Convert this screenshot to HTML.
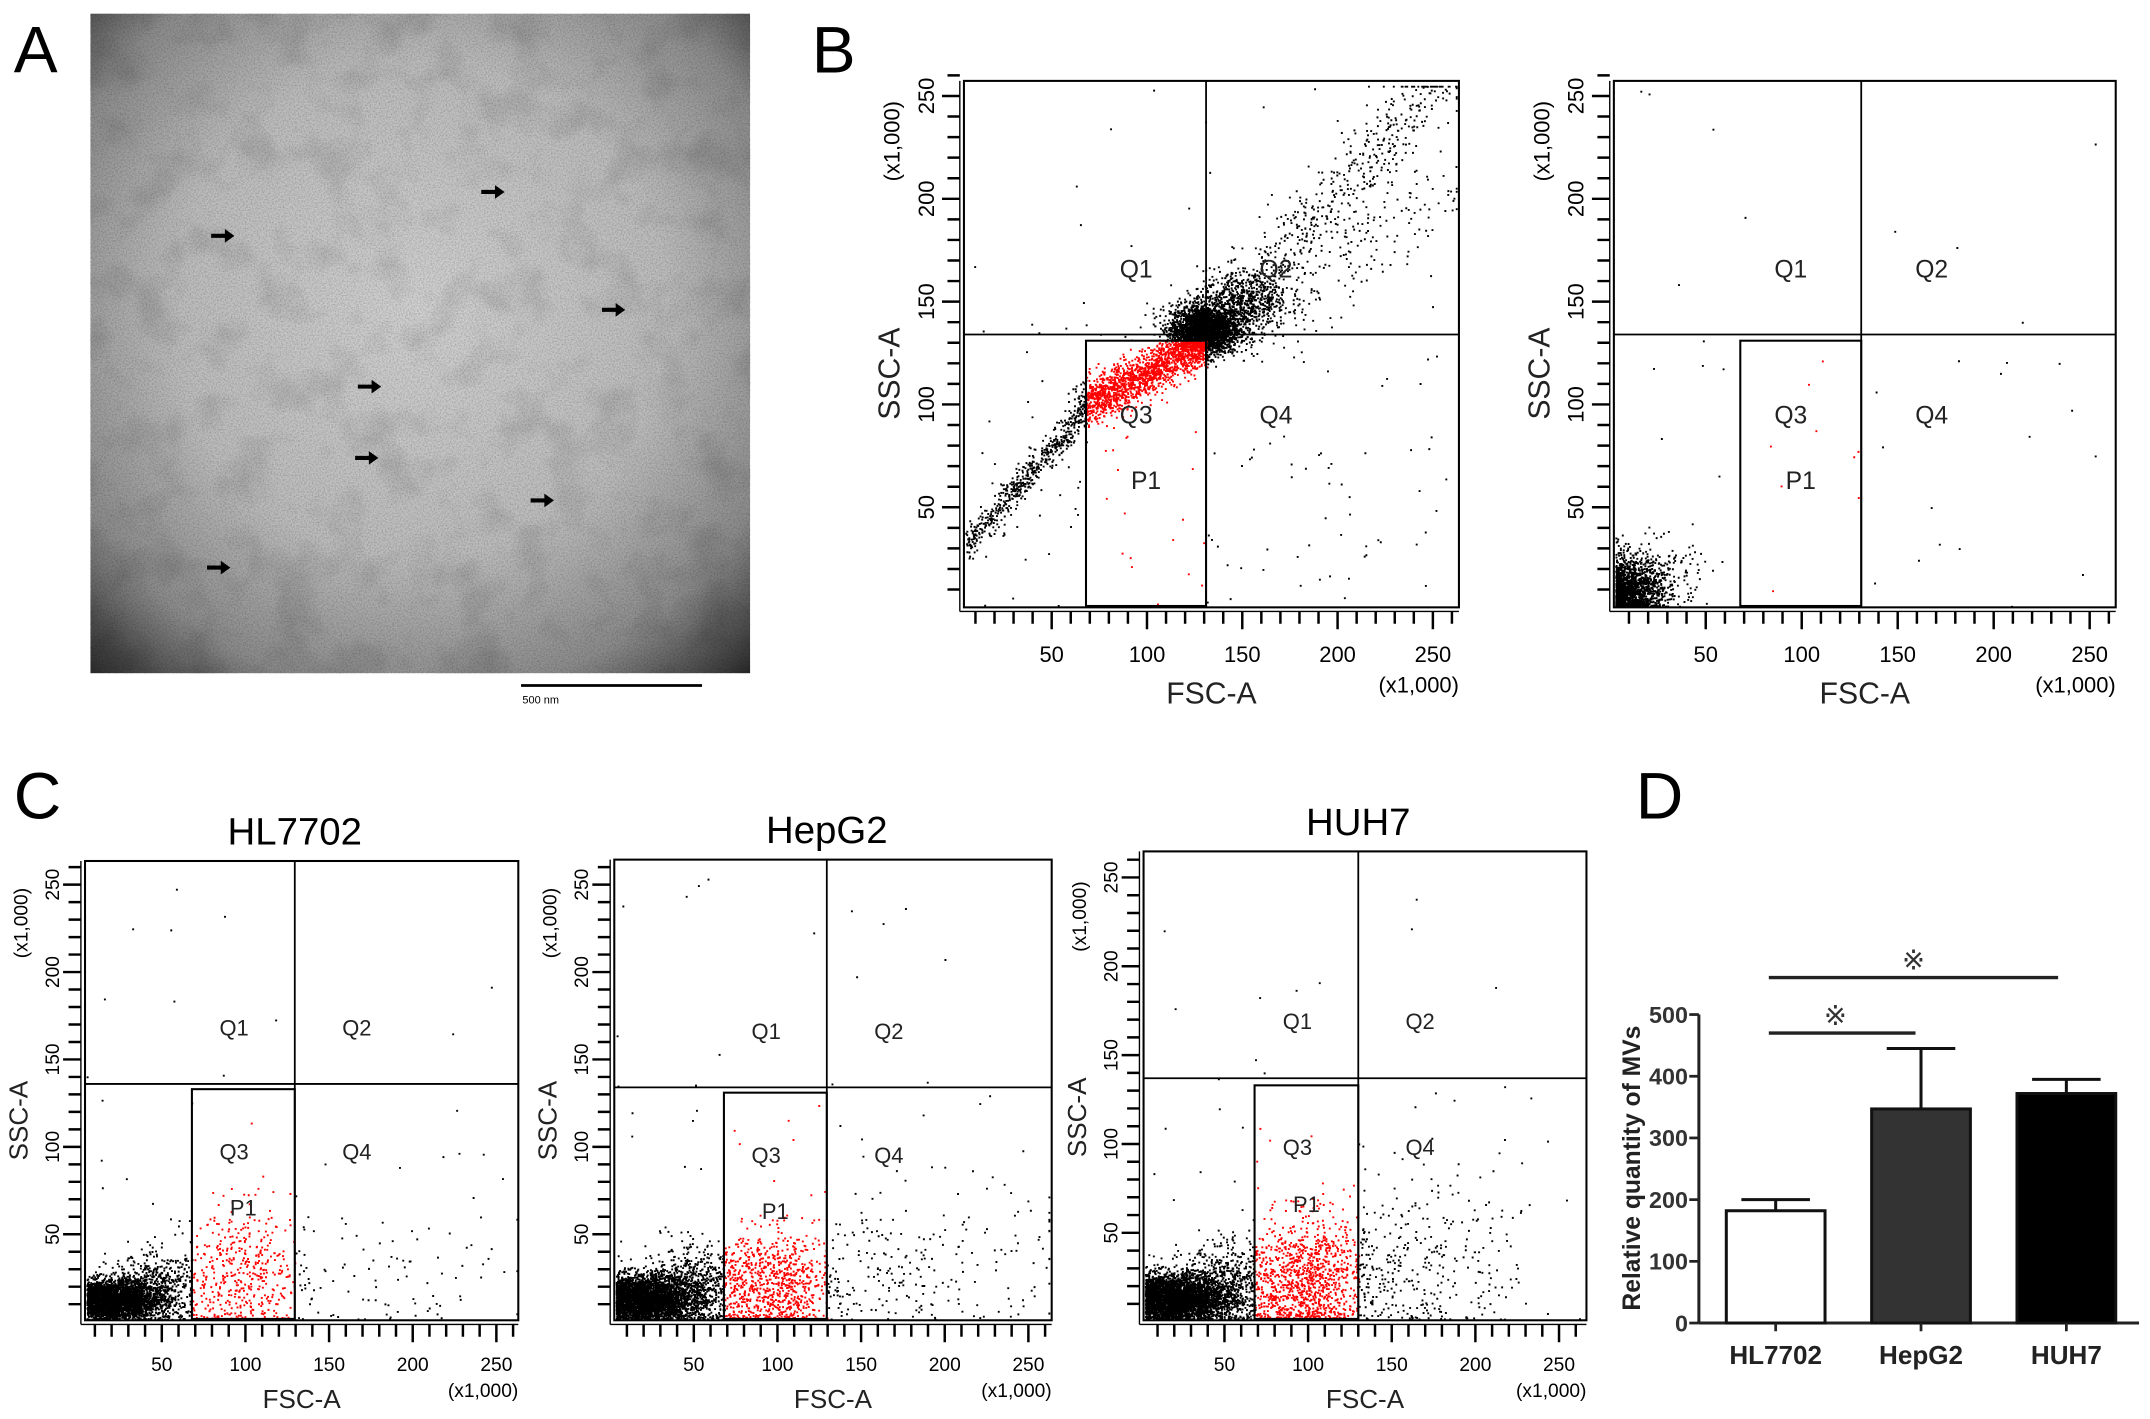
<!DOCTYPE html>
<html><head><meta charset="utf-8">
<style>
html,body{margin:0;padding:0;background:#fff;}
svg{display:block;}
text{font-family:"Liberation Sans",sans-serif;}
</style></head>
<body>
<svg id="fig" width="2150" height="1419" viewBox="0 0 1568 1035" preserveAspectRatio="none" xmlns="http://www.w3.org/2000/svg">
<defs>
  <radialGradient id="temVig" cx="0.5" cy="0.45" r="0.75">
    <stop offset="0" stop-color="#d2d2d2"/>
    <stop offset="0.5" stop-color="#bdbdbd"/>
    <stop offset="0.78" stop-color="#8c8c8c"/>
    <stop offset="1" stop-color="#262626"/>
  </radialGradient>
  <filter id="grain" x="0" y="0" width="100%" height="100%">
    <feTurbulence type="fractalNoise" baseFrequency="0.9" numOctaves="2" seed="3"/>
    <feColorMatrix type="matrix" values="0 0 0 0 0  0 0 0 0 0  0 0 0 0 0  0 0 0 -1.2 0.75"/>
  </filter>
  <filter id="blotch" x="0" y="0" width="100%" height="100%">
    <feTurbulence type="fractalNoise" baseFrequency="0.03" numOctaves="3" seed="8"/>
    <feColorMatrix type="matrix" values="0 0 0 0 0  0 0 0 0 0  0 0 0 0 0  0 0 0 -1.6 0.85"/>
  </filter>
</defs>

<text x="10" y="53" font-size="48">A</text>
<text x="592" y="53" font-size="48">B</text>
<text x="10" y="597" font-size="48">C</text>
<text x="1193" y="597" font-size="48">D</text>

<g>
  <rect x="66" y="10" width="481" height="481" fill="url(#temVig)"/>
  <rect x="66" y="10" width="481" height="481" filter="url(#blotch)" opacity="0.18"/>
  <rect x="66" y="10" width="481" height="481" filter="url(#grain)" opacity="0.35"/>
</g>
<g id="arrows"></g>
<line x1="380" y1="500" x2="512" y2="500" stroke="#000" stroke-width="2"/>
<text x="381" y="513" font-size="8" font-family="Liberation Mono">500 nm</text>

<g id="plots"></g>
<g id="barchart"></g>
</svg>

<script>
const NS="http://www.w3.org/2000/svg";
function mk(tag,attrs,parent){const e=document.createElementNS(NS,tag);for(const k in attrs)e.setAttribute(k,attrs[k]);if(parent)parent.appendChild(e);return e;}

const arrowX=[163,360,448,270,268,396,160];
const arrowY=[172,140,226,282,334,365,414];
const ag=document.getElementById('arrows');
for(let i=0;i<arrowX.length;i++){
  const p=mk('path',{d:`M${arrowX[i]-9},${arrowY[i]-1.5}h10v-3.5l7,5l-7,5v-3.5h-10z`,fill:'#000'},ag);
  
  
}

const plotNames=['fsc-ssc-plot-b-left','fsc-ssc-plot-b-right','fsc-ssc-plot-hl7702','fsc-ssc-plot-hepg2','fsc-ssc-plot-huh7'];
const plotTitles=['','','HL7702','HepG2','HUH7'];
const quadX=[131,131,129.5,129.5,130];
const quadY=[134,134,136,134,137];
const gateX=[[68,131],[68,131],[68,129.5],[68,129.5],[68,130]];
const gateTop=[131,131,133,131,133];
// clusters: [plot, cx, cy, sx, sy, n]
const clusters=[
 [0,130,137,9,6,2600],[0,150,150,12,8,700],
 [1,6,8,10,9,2400],[1,25,15,12,10,200],
 [2,18,12,14,6,3500],[2,45,18,14,10,700],[2,100,25,18,20,450],[2,180,25,45,20,90],
 [3,18,13,15,7,3800],[3,50,18,14,12,800],[3,98,20,18,16,800],[3,180,30,45,25,250],
 [4,18,13,15,7,3800],[4,50,18,14,12,800],[4,98,22,18,18,1100],[4,160,30,35,25,380]
];
// bands: [plot, x1,y1,x2,y2, n, spread]
const bands=[
 [0,3,30,70,100,600,3],[0,68,100,130,131,1600,5],[0,150,150,255,262,500,9],[0,150,140,260,205,180,10],[0,3,0,130,0,150,1]
];
const sparse=[[0,160],[1,45],[2,40],[3,55],[4,60]];

const geo=[
 {bx:703,by:59,bx2:1064,by2:443,x0:697.5,kx:1.39,y0:445,ky:1.5},
 {bx:1177,by:59,bx2:1543,by2:443,x0:1174,kx:1.4,y0:445,ky:1.5},
 {bx:62,by:628,bx2:378,by2:963,x0:57,kx:1.22,y0:964,ky:1.275},
 {bx:448,by:627,bx2:767,by2:963,x0:445,kx:1.22,y0:964,ky:1.275},
 {bx:834,by:621,bx2:1157,by2:963,x0:832,kx:1.22,y0:964,ky:1.296}
];
const xTickLabels=[50,100,150,200,250];
const yTickLabels=[50,100,150,200,250];

let seed=12345;
function rnd(){seed=(seed*1103515245+12345)&0x7fffffff;return seed/0x7fffffff;}
function gauss(){let u=rnd()||1e-6,v=rnd();return Math.sqrt(-2*Math.log(u))*Math.cos(2*Math.PI*v);}

const root=document.getElementById('plots');
const ptsPer=geo.map(()=>[]);
clusters.forEach(c=>{for(let i=0;i<c[5];i++){ptsPer[c[0]].push([c[1]+gauss()*c[3],c[2]+gauss()*c[4]]);}});
bands.forEach(b=>{for(let i=0;i<b[5];i++){const t=rnd();ptsPer[b[0]].push([b[1]+(b[3]-b[1])*t+gauss()*b[6],b[2]+(b[4]-b[2])*t+gauss()*b[6]]);}});
sparse.forEach(s=>{for(let i=0;i<s[1];i++){ptsPer[s[0]].push([rnd()*260,rnd()*260*(rnd()<0.6?0.55:1)]);}});

geo.forEach((g,pi)=>{
  const G=mk('g',{},root);
  
  
  const X=v=>g.x0+v*g.kx, Y=v=>g.y0-v*g.ky;
  let dBlack='',dRed='';
  ptsPer[pi].forEach(p=>{
    let x=p[0], y=p[1];
    if(x<1)x=1+Math.abs(x)*0.3; if(y<0.8)y=0.8+Math.abs(y)*0.3;
    x=Math.min(262,x); y=Math.min(255,y);
    const px=X(x),py=Y(y);
    if(px<g.bx+1||px>g.bx2-1||py<g.by+1||py>g.by2-1)return;
    const red=x>=gateX[pi][0]&&x<=gateX[pi][1]&&y<=gateTop[pi];
    const s=`M${px.toFixed(1)},${py.toFixed(1)}h1.4v1.4h-1.4z`;
    if(red)dRed+=s;else dBlack+=s;
  });
  const pb=mk('path',{d:dBlack,fill:'#000'},G);
  
  
  const pr=mk('path',{d:dRed,fill:'#f00'},G);
  
  
  const box=mk('rect',{x:g.bx,y:g.by,width:g.bx2-g.bx,height:g.by2-g.by,fill:'none',stroke:'#000','stroke-width':1.5},G);
  
  
  const qv=mk('line',{x1:X(quadX[pi]),y1:g.by,x2:X(quadX[pi]),y2:g.by2,stroke:'#000','stroke-width':1.3},G);
  
  
  const qh=mk('line',{x1:g.bx,y1:Y(quadY[pi]),x2:g.bx2,y2:Y(quadY[pi]),stroke:'#000','stroke-width':1.3},G);
  
  
  const gate=mk('rect',{x:X(gateX[pi][0]),y:Y(gateTop[pi]),width:X(gateX[pi][1])-X(gateX[pi][0]),height:g.by2-1-Y(gateTop[pi]),fill:'none',stroke:'#000','stroke-width':1.5},G);
  
  
  const qlab=[['Q1',(quadX[pi]*0.72),quadY[pi]+31],['Q2',quadX[pi]+(262-quadX[pi])*0.28,quadY[pi]+31],['Q3',(quadX[pi]*0.72),quadY[pi]-40],['Q4',quadX[pi]+(262-quadX[pi])*0.28,quadY[pi]-40],['P1',(gateX[pi][0]+gateX[pi][1])/2,quadY[pi]-72]];
  const fs=pi<2?18:16;
  qlab.forEach(q=>{
    const t=mk('text',{x:X(q[1]),y:Y(q[2]),'font-size':fs,'text-anchor':'middle','dominant-baseline':'middle',fill:'#222'},G);
    t.textContent=q[0];
    
    
  });
  let dt='';
  for(let v=10;v<=260;v+=10){const big=v%50===0;dt+=`M${X(v)},${g.by2+3}v${big?13:9}`;}
  for(let v=10;v<=260;v+=10){const big=v%50===0;dt+=`M${g.bx-3},${Y(v)}h-${big?13:9}`;}
  const tk=mk('path',{d:dt,stroke:'#000','stroke-width':1.8,fill:'none'},G);
  
  
  mk('line',{x1:g.bx-3,y1:g.by2+3,x2:g.bx2,y2:g.by2+3,stroke:'#000','stroke-width':1},G);
  mk('line',{x1:g.bx-3,y1:g.by,x2:g.bx-3,y2:g.by2+3,stroke:'#000','stroke-width':1},G);
  const tfs=pi<2?16:14;
  xTickLabels.forEach(v=>{
    const t=mk('text',{x:X(v),y:g.by2+(pi<2?40:37),'font-size':tfs,'text-anchor':'middle'},G);
    t.textContent=v;
    
    
  });
  yTickLabels.forEach(v=>{
    const xx=g.bx-(pi<2?22:19), yy=Y(v);
    const t=mk('text',{x:xx,y:yy,'font-size':tfs,'text-anchor':'middle',transform:`rotate(-90 ${xx} ${yy})`},G);
    t.textContent=v;
    
    
  });
  const afs=pi<2?22:19;
  const xt=mk('text',{x:(g.bx+g.bx2)/2,y:g.by2+(pi<2?70:64),'font-size':afs,'text-anchor':'middle',fill:'#222'},G);
  xt.textContent='FSC-A';
  
  
  const xm=mk('text',{x:g.bx2,y:g.by2+(pi<2?62:56),'font-size':tfs,'text-anchor':'end'},G);
  xm.textContent='(x1,000)';
  
  
  const yx=g.bx-(pi<2?47:42), yy=Y(115);
  const yt=mk('text',{x:yx,y:yy,'font-size':afs,'text-anchor':'middle',transform:`rotate(-90 ${yx} ${yy})`,fill:'#222'},G);
  yt.textContent='SSC-A';
  
  
  const my=Y(228);
  const ym=mk('text',{x:yx,y:my,'font-size':tfs,'text-anchor':'middle',transform:`rotate(-90 ${yx} ${my})`},G);
  ym.textContent='(x1,000)';
  
  
  if(plotTitles[pi]){
    const tt=mk('text',{x:X(quadX[pi]),y:g.by-12,'font-size':28,'text-anchor':'middle'},G);
    tt.textContent=plotTitles[pi];
    
    
  }
});

// ---- Panel D bar chart ----
const barCats=['HL7702','HepG2','HUH7'];
const barVals=[182,347,372];
const barErr=[18,98,23];
const barFill=['#fff','#333','#000'];
const yTicks=[0,100,200,300,400,500];
const sigPairs=[[0,1],[0,2]];
const sigHeights=[470,560];

const bc=document.getElementById('barchart');


const axX=1239, ay0=965, ayK=(965-740)/500, bandStart=1239, bandW=106;
const BY=v=>ay0-v*ayK;
const BX=i=>bandStart+bandW*(i+0.5)+3;
mk('line',{x1:axX,y1:BY(0),x2:1560,y2:BY(0),stroke:'#222','stroke-width':2.2},bc);
mk('line',{x1:axX,y1:BY(0),x2:axX,y2:BY(500),stroke:'#222','stroke-width':2.2},bc);
yTicks.forEach(v=>{
  mk('line',{x1:axX-7,y1:BY(v),x2:axX,y2:BY(v),stroke:'#222','stroke-width':2},bc);
  const t=mk('text',{x:axX-8,y:BY(v)+6,'font-size':17,'font-weight':'bold','text-anchor':'end',fill:'#333'},bc);
  t.textContent=v;
  
  
});
barCats.forEach((c,i)=>{
  const cx=BX(i), w=72;
  const r=mk('rect',{x:cx-w/2,y:BY(barVals[i]),width:w,height:BY(0)-BY(barVals[i]),fill:barFill[i],stroke:'#111','stroke-width':2.2},bc);
  
  
  const eb=mk('path',{d:`M${cx},${BY(barVals[i])}V${BY(barVals[i]+barErr[i])}M${cx-25},${BY(barVals[i]+barErr[i])}h50`,stroke:'#111','stroke-width':2.2,fill:'none'},bc);
  
  
  mk('line',{x1:cx,y1:BY(0),x2:cx,y2:BY(0)+6,stroke:'#222','stroke-width':2},bc);
  const t=mk('text',{x:cx,y:BY(0)+30,'font-size':19,'font-weight':'bold','text-anchor':'middle',fill:'#222'},bc);
  t.textContent=c;
  
  
});
sigPairs.forEach((p,k)=>{
  const x1=BX(p[0])-5, x2=BX(p[1])+(k===0?-4:-6), y=BY(sigHeights[k]);
  const l=mk('line',{x1:x1,y1:y,x2:x2,y2:y,stroke:'#222','stroke-width':2.5},bc);
  
  
  const s=mk('text',{x:(x1+x2)/2+(k===0?-5:0),y:y-6,'font-size':20,'text-anchor':'middle',fill:'#333','font-family':'Noto Sans CJK JP, sans-serif'},bc);
  s.textContent='※';
  
  
});
const yTitle=mk('text',{x:1196,y:852,'font-size':18,'font-weight':'bold','text-anchor':'middle',fill:'#222',transform:'rotate(-90 1196 852)'},bc);
yTitle.textContent='Relative quantity of MVs';


</script>
</body></html>
